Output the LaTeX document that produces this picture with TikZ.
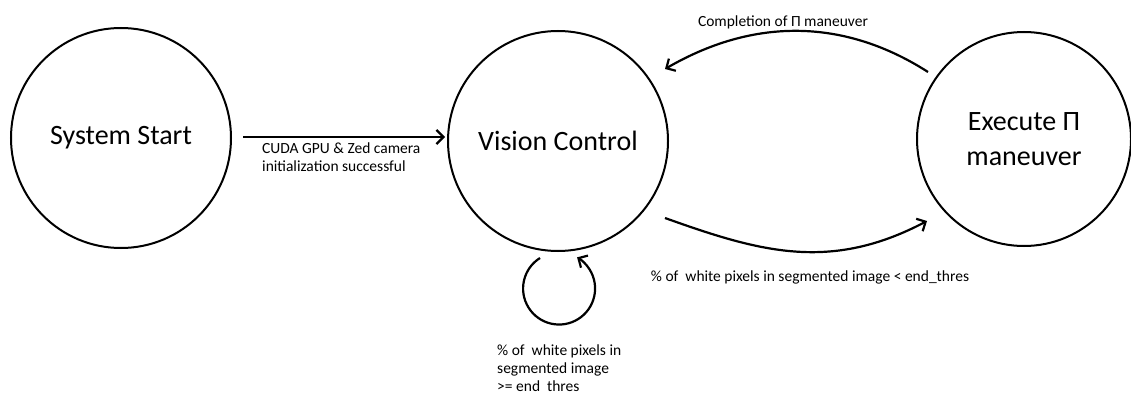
\documentclass[tikz,border=0pt]{standalone}
\usepackage{fontspec}
\setmainfont{Carlito}
\usetikzlibrary{arrows.meta}
\begin{document}
\begin{tikzpicture}[x=1pt,y=-1pt,
  state/.style={draw,circle,line width=2pt,minimum size=#1,inner sep=0pt,font=\fontsize{28}{35}\selectfont,align=center},
  conn/.style={line width=2.2pt,-{Straight Barb[length=7pt,width=14pt,line width=2.2pt]}},
  lbl/.style={font=\fontsize{15.5}{18}\selectfont,inner sep=0pt,align=left}]
\useasboundingbox (0,0) rectangle (1131,396);
\node[state=220pt] (S) at (121,138) {System Start};
\node[state=220pt] (V) at (558,141) {Vision Control};
\node[state=214pt] (E) at (1024,139) {Execute \symbol{"03A0}\\maneuver};
% straight arrow
\coordinate (a1) at (243,137);
\coordinate (a2) at (445,137);
\draw[conn] (a1) -- (a2);
\node[lbl,anchor=north west] (l1) at (262,143) {CUDA GPU \& Zed camera\\initialization successful};
% top arc
\coordinate (t1) at (928,72);
\coordinate (t2) at (665,69);
\draw[conn] (t1) .. controls (850,22) and (760,14) .. (t2);
\node[lbl] (l2) at (783,22) {Completion of \symbol{"03A0} maneuver};
% bottom arc
\coordinate (b1) at (665,218);
\coordinate (b2) at (927,221);
\draw[conn] (b1) .. controls (760,252) and (830,272) .. (b2);
\node[lbl] (l3) at (810,277) {\%~of~~white pixels in segmented image < end\_thres};
% self loop
\coordinate (s1) at (540,258);
\draw[conn] (s1) arc[start angle=238,end angle=-60,radius=36] coordinate (s2);
\node[lbl,anchor=north west] (l4) at (497,345) {\%~of~~white pixels in\\segmented image\\>= end~~thres};
\end{tikzpicture}
\end{document}
